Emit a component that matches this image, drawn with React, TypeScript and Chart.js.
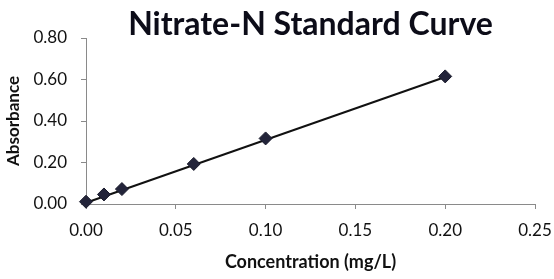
import React, { useEffect, useRef } from "react";
import { Chart, registerables } from "chart.js";

Chart.register(...registerables);

const concentrations = [0, 0.01, 0.02, 0.06, 0.1, 0.2];
const absorbances = [0.011, 0.046, 0.072, 0.193, 0.316, 0.615];
const trendX = [0, 0.2];
const trendY = [0.006, 0.612];
const xTicks = [0, 0.05, 0.1, 0.15, 0.2, 0.25];
const yTicks = [0, 0.2, 0.4, 0.6, 0.8];

const FONT = "Lato, 'Open Sans', sans-serif";
const AXIS = "#8a8a8a";

export default function App() {
  const ref = useRef<HTMLCanvasElement>(null);

  useEffect(() => {
    document.body.style.margin = "0";
    const canvas = ref.current;
    if (!canvas) return;
    const chart = new Chart(canvas, {
      type: "scatter",
      data: {
        datasets: [
          {
            label: "Absorbance",
            data: concentrations.map((x, i) => ({ x, y: absorbances[i] })),
            pointStyle: "rectRot",
            pointRadius: 6.5,
            pointBackgroundColor: "#23243a",
            pointBorderColor: "#1a1b2c",
            pointBorderWidth: 1,
            showLine: false,
            clip: false,
          },
          {
            label: "Trend",
            data: trendX.map((x, i) => ({ x, y: trendY[i] })),
            showLine: true,
            borderColor: "#111111",
            borderWidth: 2,
            pointRadius: 0,
            clip: false,
          },
        ],
      },
      options: {
        responsive: false,
        animation: false,
        layout: { padding: { left: 0, right: 19, top: 0, bottom: 0 } },
        plugins: {
          legend: { display: false },
          tooltip: { enabled: false },
          title: {
            display: true,
            text: "Nitrate-N Standard Curve",
            fullSize: false,
            color: "#0c0c18",
            font: { family: FONT, size: 32, weight: "bold", lineHeight: 0.6 },
            padding: { top: 15, bottom: 3.8 },
          },
        },
        scales: {
          x: {
            type: "linear",
            min: 0,
            max: 0.25,
            afterBuildTicks: (s: any) => {
              s.ticks = xTicks.map((v) => ({ value: v }));
            },
            afterFit: (s: any) => {
              s.height = 75;
              s.paddingLeft = 0;
              s.paddingRight = 0;
            },
            ticks: {
              color: "#111111",
              font: { family: FONT, size: 17 },
              padding: 11,
              maxRotation: 0,
              callback: (v: any) => Number(v).toFixed(2),
            },
            grid: {
              display: true,
              drawOnChartArea: false,
              drawTicks: true,
              tickLength: 5,
              color: AXIS,
            },
            border: { display: true, color: AXIS, width: 1 },
            title: {
              display: true,
              text: "Concentration (mg/L)",
              color: "#111111",
              font: { family: FONT, size: 18, weight: "bold" },
              padding: { top: 0, bottom: 6 },
            },
          },
          y: {
            type: "linear",
            min: 0,
            max: 0.8,
            afterBuildTicks: (s: any) => {
              s.ticks = yTicks.map((v) => ({ value: v }));
            },
            afterFit: (s: any) => {
              s.width = 86;
              s.paddingTop = 0;
              s.paddingBottom = 0;
            },
            ticks: {
              color: "#111111",
              font: { family: FONT, size: 17 },
              padding: 14,
              callback: (v: any) => Number(v).toFixed(2),
            },
            grid: {
              display: true,
              drawOnChartArea: false,
              drawTicks: true,
              tickLength: 5,
              color: AXIS,
            },
            border: { display: true, color: AXIS, width: 1 },
            title: {
              display: true,
              text: "Absorbance",
              color: "#111111",
              font: { family: FONT, size: 17, weight: "bold" },
              padding: { top: 3, bottom: 0 },
            },
          },
        },
      },
    });
    return () => chart.destroy();
  }, []);

  return (
    <div style={{ width: 554, height: 279, background: "#ffffff" }}>
      <canvas ref={ref} width={554} height={279} />
    </div>
  );
}
